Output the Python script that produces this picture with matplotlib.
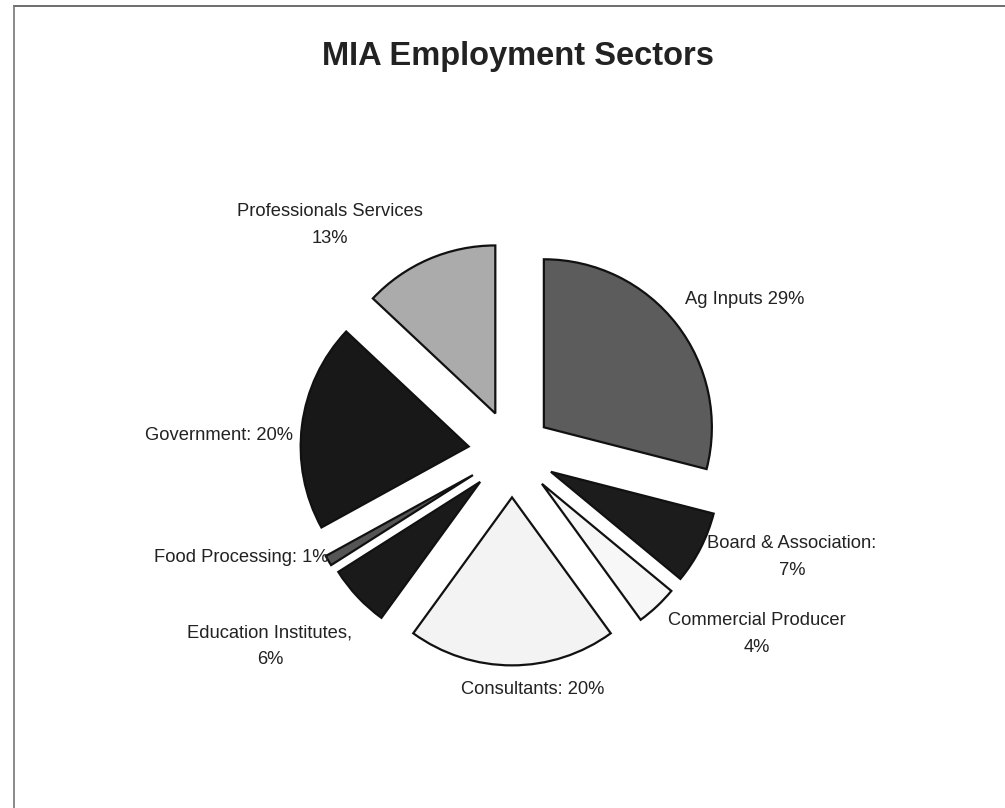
import matplotlib
matplotlib.use("Agg")
import matplotlib.pyplot as plt

# ---- data ----
sectors = ["Ag Inputs", "Board & Association", "Commercial Producer", "Consultants",
           "Education Institutes", "Food Processing", "Government", "Professionals Services"]
shares = [29, 7, 4, 20, 6, 1, 20, 13]
label_sep = [" ", ":\n", "\n", ": ", ",\n", ": ", ": ", "\n"]

# ---- styles ----
face_colors = ["#5c5c5c", "#1c1c1c", "#f7f7f7", "#f3f3f3", "#1a1a1a", "#555555", "#181818", "#ababab"]
explode_frac = [0.24, 0.26, 0.26, 0.27, 0.26, 0.27, 0.26, 0.25]
# label anchor positions in pixel coordinates (x, y from top), alignment
label_pos = [(685, 300, "left"), (792, 557, "center"), (757, 634, "center"), (533, 689, "center"),
             (270, 646, "center"), (328, 557, "right"), (293, 435, "right"), (330, 225, "center")]

W, H = 1005, 808
fig = plt.figure(figsize=(W / 100, H / 100), dpi=100)
ax = fig.add_axes([0, 0, 1, 1])

plt.rcParams["font.family"] = ["Liberation Sans", "DejaVu Sans"]

cx, cy, R = 512, H - 452, 168
wedges, _ = ax.pie(shares, explode=[e * R for e in explode_frac], colors=face_colors,
                   startangle=90, counterclock=False,
                   center=(cx, cy), radius=R, frame=True,
                   wedgeprops=dict(edgecolor="#111111", linewidth=1.6))
ax.set_xlim(0, W)
ax.set_ylim(0, H)
ax.set_aspect("equal")
ax.axis("off")

for name, v, sep, (x, y, ha) in zip(sectors, shares, label_sep, label_pos):
    ax.text(x, H - y, f"{name}{sep}{v}%", ha=ha, va="center", fontsize=13.2,
            color="#222222", linespacing=1.75, multialignment="center")

ax.text(518, H - 57, "MIA Employment Sectors", ha="center", va="center",
        fontsize=23.5, fontweight="bold", color="#222222")

# frame lines (top and left)
ax.plot([14, W], [H - 6, H - 6], color="#555555", lw=1.2)
ax.plot([14, 14], [H - 6, 0], color="#777777", lw=1.2)

fig.savefig("out.png", dpi=100)
